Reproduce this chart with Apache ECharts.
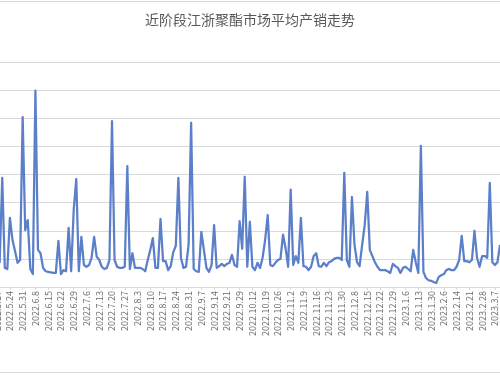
<!DOCTYPE html>
<html>
<head>
<meta charset="utf-8">
<script src="https://cdn.jsdelivr.net/npm/echarts@6/dist/echarts.min.js"></script>
<style>
html,body{margin:0;padding:0;background:#fff;}
#c{width:500px;height:375px;}
</style>
</head>
<body>
<div id="c"></div>
<script>
var title = '近阶段江浙聚酯市场平均产销走势';

var dates = [
'2022.5.17','2022.5.18','2022.5.19','2022.5.20','2022.5.23',
'2022.5.24','2022.5.25','2022.5.26','2022.5.27','2022.5.30',
'2022.5.31','2022.6.1','2022.6.2','2022.6.6','2022.6.7',
'2022.6.8','2022.6.9','2022.6.10','2022.6.13','2022.6.14',
'2022.6.15','2022.6.16','2022.6.17','2022.6.20','2022.6.21',
'2022.6.22','2022.6.23','2022.6.24','2022.6.27','2022.6.28',
'2022.6.29','2022.6.30','2022.7.1','2022.7.4','2022.7.5',
'2022.7.6','2022.7.7','2022.7.8','2022.7.11','2022.7.12',
'2022.7.13','2022.7.14','2022.7.15','2022.7.18','2022.7.19',
'2022.7.20','2022.7.21','2022.7.22','2022.7.25','2022.7.26',
'2022.7.27','2022.7.28','2022.7.29','2022.8.1','2022.8.2',
'2022.8.3','2022.8.4','2022.8.5','2022.8.8','2022.8.9',
'2022.8.10','2022.8.11','2022.8.12','2022.8.15','2022.8.16',
'2022.8.17','2022.8.18','2022.8.19','2022.8.22','2022.8.23',
'2022.8.24','2022.8.25','2022.8.26','2022.8.29','2022.8.30',
'2022.8.31','2022.9.1','2022.9.2','2022.9.5','2022.9.6',
'2022.9.7','2022.9.8','2022.9.9','2022.9.12','2022.9.13',
'2022.9.14','2022.9.15','2022.9.16','2022.9.19','2022.9.20',
'2022.9.21','2022.9.22','2022.9.23','2022.9.26','2022.9.27',
'2022.9.29','2022.9.30','2022.10.8','2022.10.10','2022.10.11',
'2022.10.12','2022.10.13','2022.10.14','2022.10.17','2022.10.18',
'2022.10.19','2022.10.20','2022.10.21','2022.10.24','2022.10.25',
'2022.10.26','2022.10.27','2022.10.28','2022.10.31','2022.11.1',
'2022.11.2','2022.11.3','2022.11.4','2022.11.7','2022.11.8',
'2022.11.9','2022.11.10','2022.11.11','2022.11.14','2022.11.15',
'2022.11.16','2022.11.17','2022.11.18','2022.11.21','2022.11.22',
'2022.11.23','2022.11.24','2022.11.25','2022.11.28','2022.11.29',
'2022.11.30','2022.12.1','2022.12.2','2022.12.5','2022.12.6',
'2022.12.8','2022.12.9','2022.12.12','2022.12.13','2022.12.14',
'2022.12.15','2022.12.16','2022.12.19','2022.12.20','2022.12.21',
'2022.12.22','2022.12.23','2022.12.26','2022.12.27','2022.12.28',
'2022.12.29','2022.12.30','2023.1.3','2023.1.4','2023.1.5',
'2023.1.6','2023.1.9','2023.1.10','2023.1.11','2023.1.12',
'2023.1.13','2023.1.16','2023.1.17','2023.1.18','2023.1.19',
'2023.1.30','2023.1.31','2023.2.1','2023.2.2','2023.2.3',
'2023.2.6','2023.2.7','2023.2.8','2023.2.9','2023.2.10',
'2023.2.14','2023.2.15','2023.2.16','2023.2.17','2023.2.20',
'2023.2.21','2023.2.22','2023.2.23','2023.2.24','2023.2.27',
'2023.2.28','2023.3.1','2023.3.2','2023.3.3','2023.3.6',
'2023.3.7','2023.3.8','2023.3.9'
];

// average production-to-sales ratio (%)
var ratio = [
57,44,194,34,32,
123,84,64,43,48,
302,101,119,32,23,
349,66,60,34,28,
27,26,25,25,82,
23,30,28,105,28,
137,192,28,89,39,
36,39,52,89,54,
48,36,32,34,48,
295,48,36,34,34,
36,215,32,60,34,
34,34,32,28,48,
66,87,34,34,121,
46,46,30,37,62,
73,194,52,34,36,
75,292,32,28,27,
98,66,34,27,39,
110,34,37,41,37,
41,43,57,39,36,
117,68,196,36,116,
36,30,43,34,52,
84,128,39,37,43,
48,50,93,69,36,
173,39,55,43,123,
37,36,30,36,55,
60,37,36,43,37,
44,46,50,52,52,
48,203,48,36,160,
75,44,37,75,110,
169,66,55,44,36,
30,30,30,28,25,
41,37,34,25,34,
36,32,28,66,44,
25,251,27,16,12,
11,9,7,18,21,
23,30,32,30,30,
36,48,91,46,46,
44,48,100,52,36,
55,55,52,185,44,
39,44,75
];

var yMin = 0, yMax = 400, yStep = 50;

var chart = echarts.init(document.getElementById('c'), null, {renderer: 'canvas'});
chart.setOption({
  animation: false,
  backgroundColor: '#ffffff',
  title: {
    text: title,
    left: 'center',
    top: 8,
    textStyle: {
      fontFamily: 'Noto Sans CJK SC',
      fontSize: 14,
      fontWeight: 'normal',
      color: '#595959'
    }
  },
  graphic: [
    {type: 'line', shape: {x1: 0, y1: 1.5, x2: 500, y2: 1.5}, style: {stroke: '#d9d9d9', lineWidth: 1}},
    {type: 'line', shape: {x1: 0, y1: 372.5, x2: 500, y2: 372.5}, style: {stroke: '#d9d9d9', lineWidth: 1}}
  ],
  grid: {left: -2.865, right: 0, top: 62, bottom: 88, containLabel: false, outerBoundsMode: 'none'},
  xAxis: {
    type: 'category',
    data: dates,
    boundaryGap: false,
    axisLine: {show: true, lineStyle: {color: '#d9d9d9', width: 1}},
    axisTick: {show: true, interval: 4, length: 3, lineStyle: {color: '#d9d9d9'}},
    axisLabel: {
      interval: 4,
      rotate: 90,
      fontSize: 9,
      margin: 4,
      color: '#6b6b6b',
      fontFamily: 'Noto Sans CJK SC',
      hideOverlap: false
    },
    splitLine: {show: false}
  },
  yAxis: {
    type: 'value',
    min: yMin,
    max: yMax,
    interval: yStep,
    axisLine: {show: false},
    axisTick: {show: false},
    axisLabel: {show: false},
    splitLine: {show: true, lineStyle: {color: '#d9d9d9', width: 1}}
  },
  series: [{
    type: 'line',
    data: ratio,
    symbol: 'none',
    smooth: false,
    lineStyle: {color: '#5b7fc9', width: 2.25, join: 'round'},
    itemStyle: {color: '#5b7fc9'}
  }]
});
</script>
</body>
</html>
